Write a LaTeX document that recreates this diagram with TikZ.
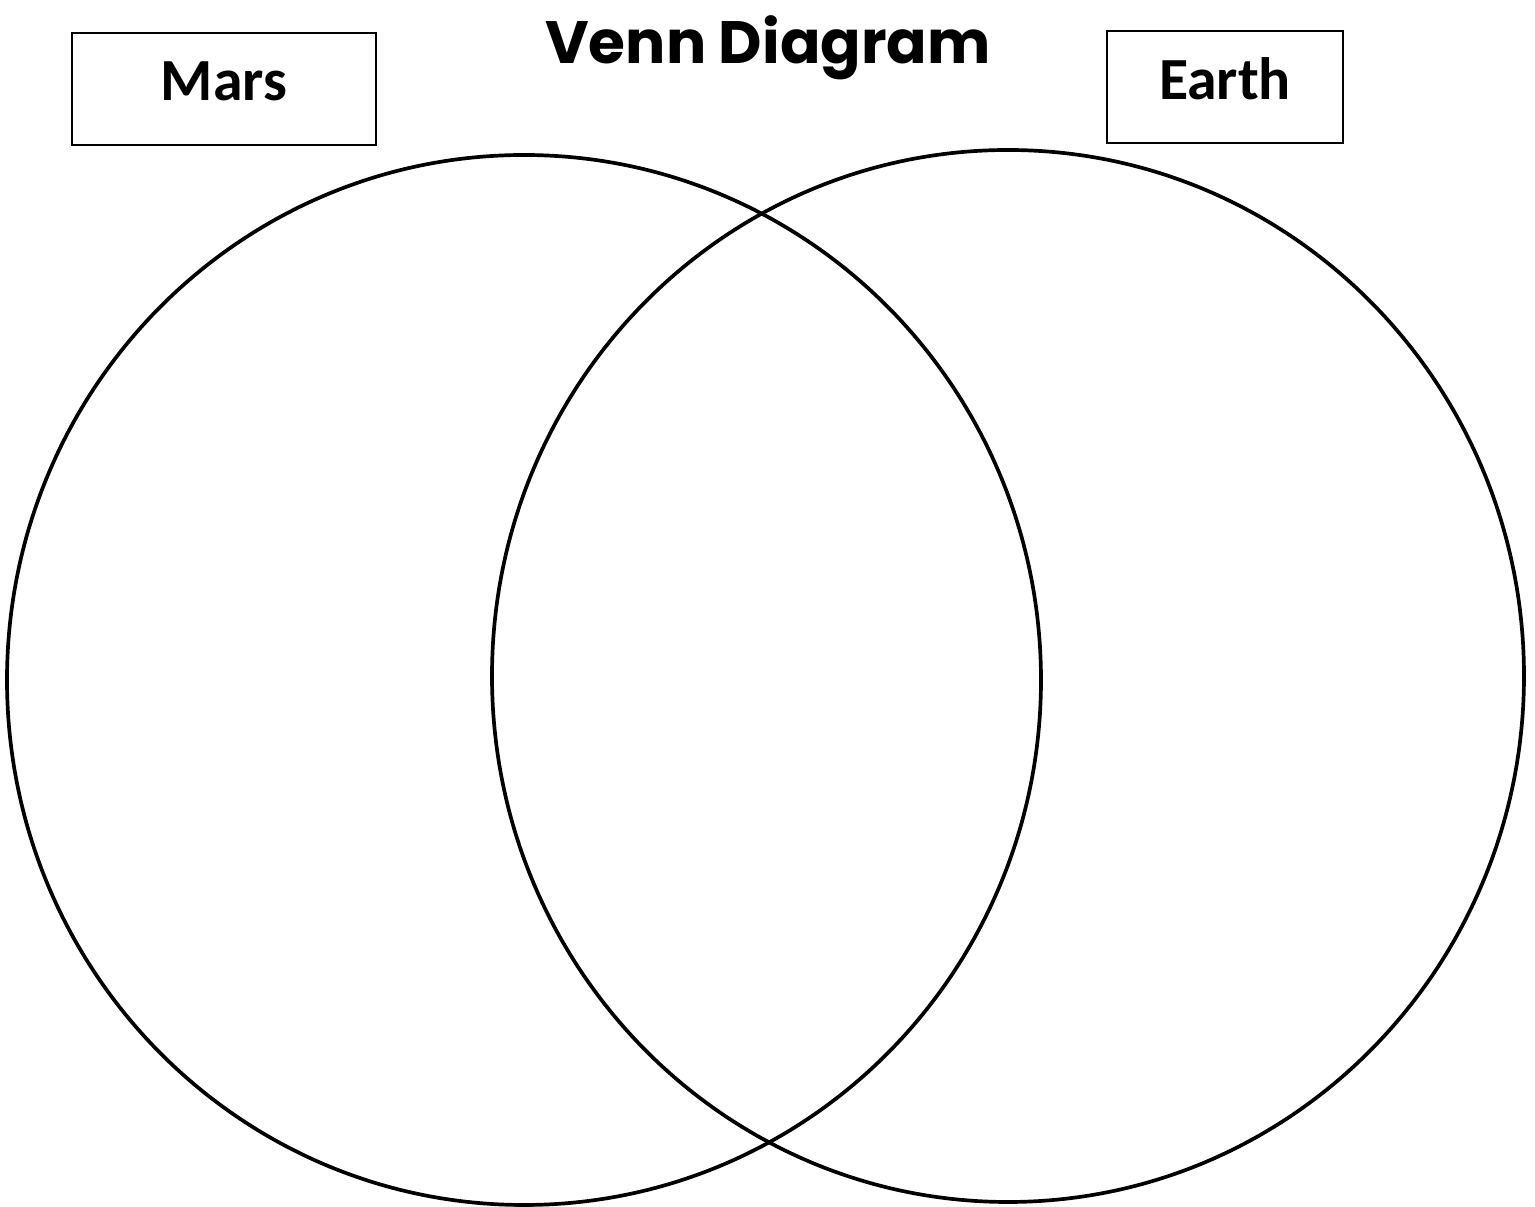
\documentclass[tikz,border=0pt]{standalone}
\usepackage{fontspec}
\setmainfont{Carlito}
\newfontfamily\titlefont{Poppins}
\usepackage{tikz}
\usetikzlibrary{positioning,calc}

\begin{document}
\begin{tikzpicture}[
    x=0.01cm, y=-0.01cm,
    label box/.style={rectangle, draw=black, line width=0.6pt, fill=white,
                minimum height=1.12cm, inner sep=0pt, align=center, text depth=0.16cm,
                font=\fontsize{17}{20}\selectfont\bfseries},
    ring/.style={draw=black, line width=1.05pt},
    heading/.style={font=\titlefont\fontsize{17}{20}\selectfont\bfseries, inner sep=0pt},
]
\useasboundingbox[fill=white] (0,0) rectangle (1535,1207);

% the two sets
\draw[ring] (524,680) ellipse [x radius=517, y radius=525];
\draw[ring] (1008,676) ellipse [x radius=516, y radius=526];

% title and set names
\node[heading] (title) at (768,48) {Venn Diagram};
\node[label box, minimum width=3.04cm] (mars) at (224,89) {Mars};
\node[label box, minimum width=2.36cm] (earth) at (1225,87) {Earth};

\end{tikzpicture}
\end{document}
